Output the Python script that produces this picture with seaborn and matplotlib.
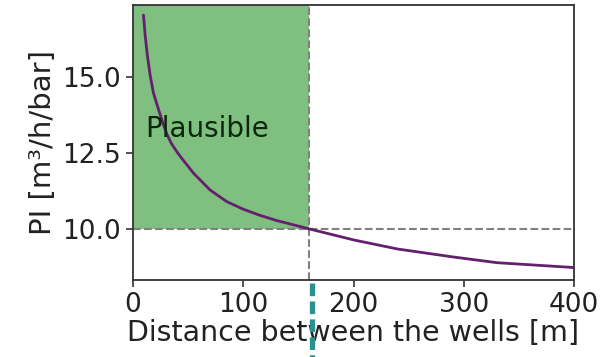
import matplotlib
matplotlib.use("Agg")
import matplotlib.pyplot as plt
import seaborn as sns
import pandas as pd
from matplotlib.lines import Line2D

# Data
distance = [9.5, 11, 13, 15.5, 18.5, 23, 27.5, 31, 35, 40, 43, 55, 70, 85, 100, 115, 130,
            160, 200, 240, 290, 330, 400]
pi_values = [17.04, 16.38, 15.72, 15.07, 14.48, 13.95, 13.45, 13.10, 12.80, 12.53, 12.38,
             11.83, 11.28, 10.90, 10.65, 10.45, 10.28, 10.0, 9.64, 9.34, 9.08, 8.89, 8.73]
threshold_distance = 160
threshold_pi = 10.0
x_ticks = [0, 100, 200, 300, 400]
y_ticks = [10.0, 12.5, 15.0]

df = pd.DataFrame({"distance": distance, "pi": pi_values})

sns.set_theme(style="ticks")
plt.rcParams["font.family"] = ["DejaVu Sans"]
fs = 19

fig = plt.figure(figsize=(6.13, 3.57), dpi=100)
ax = fig.add_axes([133 / 613, 1 - 280 / 357, (574 - 133) / 613, (280 - 5) / 357])

ylim = (8.32, 17.37)
ax.fill_between([0, threshold_distance], threshold_pi, ylim[1] + 5, color="green", alpha=0.5, lw=0)
ax.axvline(threshold_distance, color="grey", ls="--", lw=1.5)
ax.axhline(threshold_pi, color="grey", ls="--", lw=1.5)
sns.lineplot(data=df, x="distance", y="pi", ax=ax, color="#64206e", lw=2)

ax.text(11, 13.3, "Plausible", fontsize=20, color="#0d260d", va="center", ha="left")

ax.set_xlim(0, 400)
ax.set_ylim(*ylim)
ax.set_xticks(x_ticks)
ax.set_yticks(y_ticks)
ax.set_xticklabels([str(v) for v in x_ticks])
ax.set_yticklabels([f"{v:.1f}" for v in y_ticks])
ax.tick_params(labelsize=fs, length=5, width=1.2, color="#333333", labelcolor="#222222")
ax.set_xlabel("Distance between the wells [m]", fontsize=20.5, color="#222222", labelpad=1)
ax.set_ylabel("PI [m³/h/bar]", fontsize=21, color="#222222", labelpad=4)
for s in ax.spines.values():
    s.set_linewidth(1.3)
    s.set_color("#333333")

fig.add_artist(Line2D([312 / 613, 312 / 613], [1 - 283 / 357, 0], transform=fig.transFigure,
                      color="#2a9090", lw=3.8, dashes=(2.4, 1.0)))

fig.savefig("out.png", dpi=100)
